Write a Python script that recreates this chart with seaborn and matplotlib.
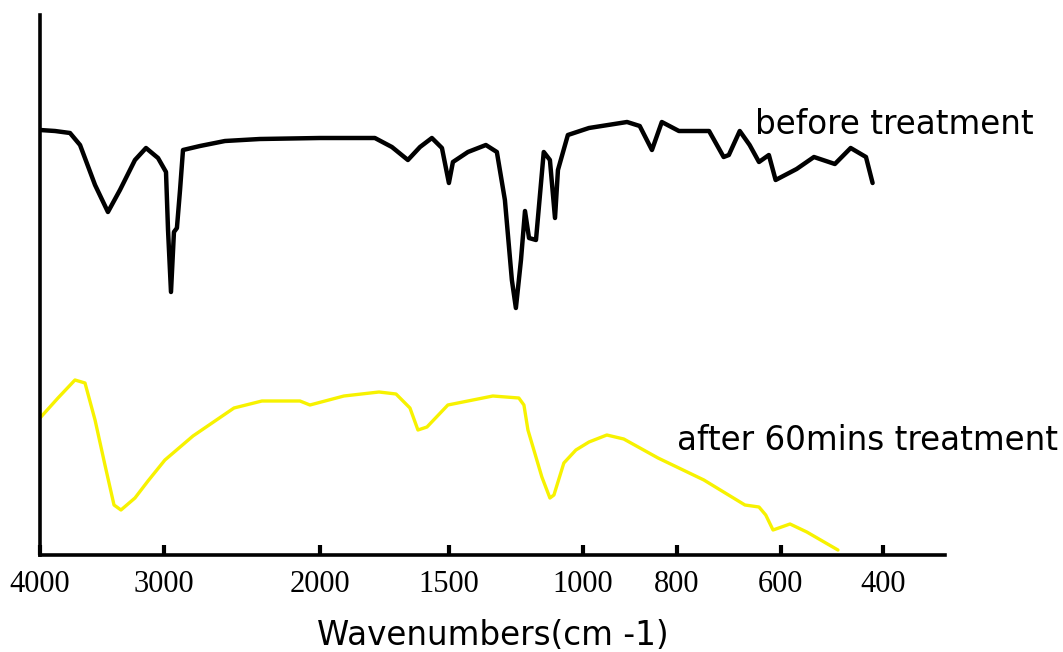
import numpy as np
import pandas as pd
import seaborn as sns
import matplotlib.pyplot as plt

# FTIR spectra: wavenumber (cm-1) and transmittance (a.u.)
before_wn = [4000, 3879, 3758, 3677, 3556, 3452, 3355, 3234, 3145, 3048, 2987,
             2974, 2955, 2936, 2917, 2897, 2878, 2769, 2609, 2385, 2000, 1787,
             1721, 1659, 1612, 1566, 1527, 1500, 1485, 1429, 1362, 1321, 1291,
             1265, 1250, 1231, 1216, 1201, 1175, 1146, 1123, 1104, 1093, 1056,
             987, 906, 879, 853, 832, 796, 738, 710, 700, 679, 660, 642, 623,
             610, 569, 535, 494, 463, 433, 420]
before_t = [425, 424, 422, 410, 370, 343, 365, 395, 407, 397, 383,
            325, 263, 323, 327, 365, 405, 409, 414, 416, 417, 417,
            408, 395, 408, 417, 407, 372, 393, 403, 410, 403, 355,
            275, 247, 295, 344, 317, 315, 403, 395, 337, 385, 420,
            427, 433, 429, 405, 433, 424, 424, 398, 400, 424, 410, 393, 400,
            375, 386, 398, 391, 407, 398, 372]

after_wn = [4000, 3855, 3718, 3637, 3556, 3476, 3403, 3347, 3234, 3129, 2994,
            2814, 2551, 2372, 2128, 2064, 1907, 1771, 1705, 1651, 1620, 1585,
            1504, 1336, 1239, 1220, 1205, 1153, 1123, 1108, 1071, 1026, 987,
            949, 913, 840, 748, 669, 642, 629, 615, 582, 549, 488]
after_t = [137, 157, 175, 172, 135, 90, 50, 45, 57, 74, 95,
           119, 147, 154, 154, 150, 159, 163, 161, 147, 125, 128,
           150, 159, 157, 150, 125, 78, 57, 60, 92, 105, 113,
           120, 116, 97, 75, 50, 48, 40, 25, 31, 23, 5]

tick_wn = [4000, 3000, 2000, 1500, 1000, 800, 600, 400]
tick_labels = [str(t) for t in tick_wn]

# the original wavenumber axis is stretched piecewise
knot_wn = [0, 400, 600, 800, 1000, 1500, 2000, 3000, 4000, 5000]
knot_pos = [-142, 62, 164, 268, 362, 496, 625, 781, 905, 1029]


def fwd(w):
    return np.interp(w, knot_wn, knot_pos)


def inv(p):
    return np.interp(p, knot_pos, knot_wn)


sns.set_style("white", {"xtick.bottom": True})

fig = plt.figure(figsize=(10.63, 6.52), dpi=100)
ax = fig.add_axes([40 / 1063, 97 / 652, 905 / 1063, 540 / 652])

before = pd.DataFrame({"wn": before_wn, "t": before_t})
after = pd.DataFrame({"wn": after_wn, "t": after_t})
sns.lineplot(data=before, x="wn", y="t", ax=ax, color="black", lw=3.2,
             sort=False, estimator=None)
sns.lineplot(data=after, x="wn", y="t", ax=ax, color="#f7f200", lw=2.4,
             sort=False, estimator=None)

ax.set_xscale("function", functions=(fwd, inv))
ax.set_xlim(4000, 278)
ax.set_ylim(0, 540)
ax.set_xticks(tick_wn, tick_labels)
ax.set_yticks([])
ax.set_ylabel("")
ax.xaxis.set_ticks_position("bottom")
ax.tick_params(axis="x", which="major", bottom=True, direction="in",
               length=7, width=3, color="black", pad=11, labelsize=22,
               labelcolor="black")
for lab in ax.get_xticklabels():
    lab.set_family(["Liberation Serif", "DejaVu Serif"])

sns.despine(ax=ax)
for side in ["left", "bottom"]:
    ax.spines[side].set_linewidth(2.6)
    ax.spines[side].set_color("black")

ax.set_xlabel("Wavenumbers(cm -1)", fontsize=23.5, labelpad=14,
              color="black", family=["DejaVu Sans"])

fig.text(755 / 1063, 1 - 125 / 652, "before treatment", fontsize=23.5,
         va="center", ha="left", color="black")
fig.text(677 / 1063, 1 - 440 / 652, "after 60mins treatment", fontsize=23.5,
         va="center", ha="left", color="black")

fig.savefig("out.png", dpi=100)
